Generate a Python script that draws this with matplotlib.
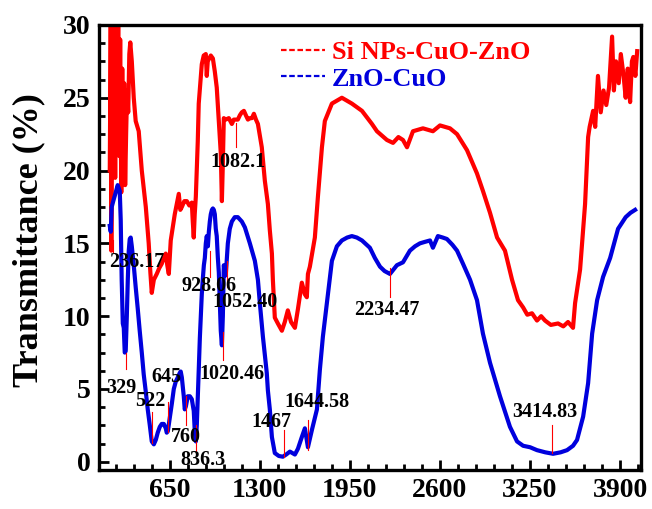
import numpy as np
import matplotlib
matplotlib.use('Agg')
import matplotlib.pyplot as plt
from matplotlib.ticker import MultipleLocator
from matplotlib.lines import Line2D

plt.rcParams['font.family'] = ['Liberation Serif', 'DejaVu Serif']
plt.rcParams['font.weight'] = 'bold'

# ZnO-CuO (blue), wavenumber (cm-1) / transmittance (%)
wn_blue = [217, 224, 231, 245, 260, 274, 289, 296, 303, 311, 318, 325, 332, 340, 347, 354,
           361, 368, 376, 390, 404, 419, 433, 448, 462, 477, 491, 506, 520, 535, 549, 563,
           578, 592, 607, 621, 628, 636, 650, 665, 679, 693, 708, 722, 729, 737, 751, 758,
           766, 780, 795, 809, 823, 831, 838, 845, 852, 859, 867, 874, 881, 888, 896, 903,
           910, 917, 925, 932, 939, 946, 954, 961, 968, 975, 982, 989, 997, 1004, 1011, 1018,
           1026, 1033, 1040, 1054, 1069, 1083, 1098, 1119, 1141, 1170, 1192, 1228, 1264, 1286,
           1300, 1322, 1350, 1358, 1372, 1387, 1408, 1437, 1466, 1490, 1517, 1535, 1553, 1575,
           1603, 1625, 1647, 1676, 1712, 1733, 1755, 1784, 1805, 1820, 1856, 1892, 1930, 1964,
           2000, 2037, 2094, 2130, 2167, 2200, 2239, 2289, 2333, 2383, 2420, 2455, 2490, 2528,
           2549, 2585, 2620, 2650, 2690, 2723, 2766, 2817, 2867, 2910, 2961, 3033, 3105, 3156,
           3200, 3250, 3300, 3360, 3416, 3470, 3517, 3560, 3589, 3633, 3669, 3698, 3734, 3777,
           3828, 3885, 3940, 3975, 4008]
t_blue = [16.2, 15.8, 17.5, 18.0, 18.5, 19.0, 18.6, 16.6, 12.5, 9.5, 9.2, 7.5, 7.6, 10.0, 12.5, 14.5,
          15.3, 15.4, 14.8, 13.5, 12.0, 10.5, 9.0, 7.5, 6.0, 4.8, 3.6, 2.5, 1.4, 1.2, 1.5, 2.0,
          2.4, 2.6, 2.6, 2.3, 2.0, 2.1, 3.0, 4.0, 5.0, 5.5, 5.8, 6.1, 6.2, 5.8, 4.5, 3.6,
          3.8, 4.5, 4.5, 4.3, 3.5, 2.0, 1.4, 2.5, 4.5, 6.3, 8.5, 10.0, 11.5, 12.5, 13.5, 14.0,
          15.0, 15.5, 14.8, 15.8, 16.5, 17.0, 17.3, 17.4, 17.3, 17.0, 16.0, 15.5, 14.0, 13.0, 11.0, 9.0,
          8.0, 10.0, 13.5, 12.8, 15.0, 16.0, 16.5, 16.8, 16.8, 16.5, 16.1, 15.0, 13.8, 12.5,
          10.9, 8.6, 6.1, 4.9, 3.6, 1.7, 0.6, 0.4, 0.35, 0.5, 0.7, 0.6, 0.5, 0.9,
          1.7, 2.3, 1.0, 2.2, 3.6, 6.3, 8.6, 10.9, 12.6, 13.8, 14.8, 15.2, 15.4, 15.5,
          15.4, 15.2, 14.7, 14.0, 13.4, 13.1, 12.9, 13.5, 13.7, 14.5, 14.8, 15.0, 15.1, 15.2,
          14.7, 15.5, 15.4, 15.3, 14.9, 14.5, 13.6, 12.5, 11.1, 8.8, 6.8, 4.5, 2.4, 1.4,
          1.1, 1.0, 0.8, 0.65, 0.55, 0.65, 0.8, 1.1, 1.5, 3.1, 5.4, 8.8, 11.1, 12.7,
          14.0, 16.0, 16.8, 17.1, 17.3]

# Si NPs-CuO-ZnO (red)
wn_red = [217, 224, 228, 235, 242, 249, 256, 263, 270, 278, 285, 292, 300, 307, 314, 321,
          328, 335, 342, 350, 358, 365, 376, 390, 404, 426, 448, 477, 498, 510, 520, 535,
          556, 574, 592, 607, 621, 632, 643, 650, 657, 686, 715, 726, 737, 755, 773, 791,
          809, 816, 823, 830, 838, 852, 859, 870, 881, 895, 910, 917, 924, 946, 961, 975,
          989, 1004, 1018, 1026, 1033, 1040, 1054, 1076, 1098, 1112, 1127, 1141, 1156, 1170,
          1185, 1199, 1214, 1228, 1243, 1257, 1272, 1286, 1300, 1314, 1336, 1358, 1372, 1387,
          1394, 1408, 1430, 1459, 1480, 1502, 1525, 1553, 1575, 1603, 1625, 1639, 1647, 1661,
          1697, 1719, 1748, 1769, 1820, 1892, 1964, 2037, 2109, 2145, 2217, 2261, 2300, 2333,
          2362, 2405, 2477, 2549, 2600, 2672, 2723, 2795, 2867, 2910, 2961, 3012, 3069, 3120,
          3163, 3200, 3230, 3264, 3300, 3330, 3358, 3400, 3452, 3490, 3524, 3560, 3575, 3611,
          3647, 3669, 3680, 3705, 3720, 3740, 3760, 3780, 3800, 3820, 3842, 3855, 3870, 3890,
          3905, 3925, 3940, 3955, 3972, 3985, 3995, 4010, 4023]
t_red = [20.0, 30.5, 14.5, 30.5, 22.0, 30.5, 19.5, 30.5, 23.0, 30.5, 21.0, 29.0, 18.5, 27.0, 20.0, 26.0,
         19.0, 22.5, 25.5, 24.0, 28.0, 28.8, 27.5, 25.0, 23.4, 22.7, 20.0, 17.5, 15.0, 13.0, 11.6, 12.5,
         12.9, 13.3, 13.6, 14.0, 14.3, 13.5, 12.9, 14.0, 15.2, 17.0, 18.4, 17.3, 17.5, 17.9, 17.9, 17.6,
         17.8, 16.5, 15.4, 17.0, 18.2, 22.0, 24.6, 26.0, 27.3, 27.9, 28.0, 26.5, 27.5, 27.9, 27.7, 26.8,
         25.7, 23.4, 21.2, 17.9, 20.5, 23.6, 23.5, 23.6, 23.2, 23.5, 23.5, 23.5, 23.8, 24.0,
         24.1, 23.8, 23.5, 23.6, 23.6, 23.9, 23.5, 23.2, 22.4, 21.6, 19.3, 17.7, 15.9, 14.3,
         12.5, 9.9, 9.5, 9.0, 9.6, 10.4, 9.6, 9.2, 10.5, 12.3, 11.5, 11.3, 12.9, 13.4,
         15.4, 18.2, 21.6, 23.4, 24.6, 25.0, 24.6, 24.1, 23.2, 22.7, 22.1, 21.9, 22.3, 22.1,
         21.6, 22.7, 22.9, 22.7, 23.1, 22.9, 22.5, 21.4, 19.8, 18.6, 17.1, 15.4, 14.5, 12.5,
         11.1, 10.6, 10.1, 10.2, 9.7, 10.0, 9.7, 9.4, 9.5, 9.3, 9.6, 9.2, 10.9, 13.2,
         17.7, 22.3, 23.0, 24.1, 23.0, 26.5, 24.0, 25.5, 24.5, 25.7, 29.2, 25.5, 27.5, 26.0,
         28.0, 26.5, 25.0, 27.0, 24.7, 27.5, 27.8, 26.5, 28.2]

# peak labels: text, marker position, marker start/end, label position
peak_text = ['236.17', '329', '522', '645', '760', '836.3', '928.06', '1052.40',
             '1020.46', '1082.1', '1467', '1644.58', '2234.47', '3414.83']
peak_wn = [238, 332, 520, 636, 766, 838, 939, 1061, 1033, 1127, 1473, 1647, 2239, 3409]
peak_y0 = [15.2, 7.5, 3.4, 4.1, 4.5, 2.5, 14.5, 13.8, 8.9, 23.3, 2.2, 2.9, 13.3, 2.5]
peak_y1 = [14.4, 6.4, 1.3, 2.05, 2.5, 0.6, 12.7, 12.0, 7.0, 21.6, 0.3, 0.8, 11.3, 0.6]
label_wn = [412, 303, 506, 628, 766, 888, 932, 1192, 1096, 1141, 1380, 1712, 2217, 3358]
label_t = [13.7, 5.1, 4.2, 5.8, 1.7, 0.15, 12.1, 11.0, 6.0, 20.6, 2.7, 4.1, 10.4, 3.4]

red = '#ff0000'
blue = '#0000dd'

fig = plt.figure(figsize=(6.52, 5.09), dpi=100)
ax = fig.add_axes([0.152, 0.077, 0.831, 0.874])

ax.plot(wn_red, t_red, color=red, lw=3.0)
ax.plot(wn_blue, t_blue, color=blue, lw=3.0)

# thin red marker lines with peak positions
for txt, x, y0, y1, lx, ly in zip(peak_text, peak_wn, peak_y0, peak_y1, label_wn, label_t):
    ax.plot([x, x], [y0, y1], color=red, lw=0.8)
    ax.text(lx, ly, txt, ha='center', va='center', fontsize=14.5, fontweight='bold')

ax.set_xlim(140, 4050)
ax.set_ylim(-0.55, 30)
ax.set_xticks([650, 1300, 1950, 2600, 3250, 3900])
ax.xaxis.set_minor_locator(MultipleLocator(130))
ax.yaxis.set_major_locator(MultipleLocator(5))
ax.yaxis.set_minor_locator(MultipleLocator(1.25))

ax.tick_params(which='both', direction='in', top=False, right=False, width=2)
ax.tick_params(which='major', length=7, labelsize=20, pad=6)
ax.tick_params(which='minor', length=4)
for lab in ax.get_xticklabels() + ax.get_yticklabels():
    lab.set_fontweight('bold')
for sp in ax.spines.values():
    sp.set_linewidth(2.4)

ax.set_ylabel('Transmittance (%)', fontsize=26, fontweight='bold')
ax.yaxis.set_label_coords(-0.10, 0.517)

handles = [Line2D([], [], color=red, lw=1.6, ls=(0, (2.5, 1.2))),
           Line2D([], [], color=blue, lw=1.6, ls=(0, (2.5, 1.2)))]
leg = ax.legend(handles, ['Si NPs-CuO-ZnO', 'ZnO-CuO'], loc='upper left',
                bbox_to_anchor=(0.335, 0.965), frameon=False,
                handlelength=1.7, handletextpad=0.25, borderpad=0, borderaxespad=0,
                labelspacing=0.12, prop={'weight': 'bold', 'size': 19})
for t, c in zip(leg.get_texts(), [red, blue]):
    t.set_color(c)

fig.savefig('out.png', dpi=100)
